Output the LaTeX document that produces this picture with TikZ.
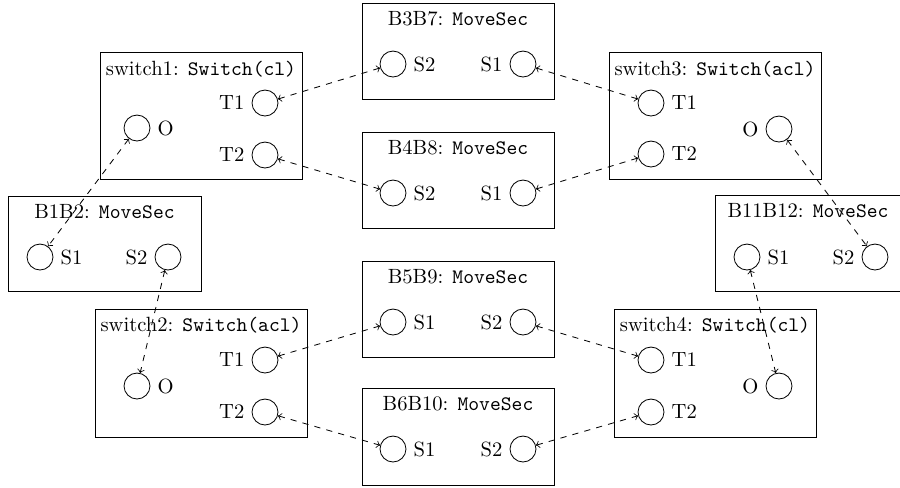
\documentclass[tikz,border=0pt]{standalone}
\usetikzlibrary{fit}
\begin{document}
\begin{tikzpicture}[x=0.4854pt, y=-0.4854pt,
  compbox/.style={draw, rectangle, inner sep=0pt, line width=0.4pt},
  title/.style={anchor=base, inner sep=0pt},
  port/.style={draw, circle, minimum size=12.6pt, inner sep=0pt, line width=0.4pt},
  conn/.style={<->, dashed, line width=0.4pt}]
\useasboundingbox (0,0) rectangle (900,487);
\clip (0,0) rectangle (900,487);

% switch1
\node[compbox, fit={(100,52) (302,179)}] (sw1) {};
\node[title] (sw1t) at (201,75) {switch1: \texttt{Switch(cl)}};
\node[port, label={left:T1}] (sw1T1) at (265,103) {};
\node[port, label={left:T2}] (sw1T2) at (265,155) {};
\node[port, label={right:O}] (sw1O) at (137,128) {};

% switch2
\node[compbox, fit={(95,309) (307,437)}] (sw2) {};
\node[title] (sw2t) at (201,331) {switch2: \texttt{Switch(acl)}};
\node[port, label={left:T1}] (sw2T1) at (265,360) {};
\node[port, label={left:T2}] (sw2T2) at (265,412) {};
\node[port, label={right:O}] (sw2O) at (137,386) {};

% switch3
\node[compbox, fit={(609,52) (821,179)}] (sw3) {};
\node[title] (sw3t) at (715,75) {switch3: \texttt{Switch(acl)}};
\node[port, label={right:T1}] (sw3T1) at (651,103) {};
\node[port, label={right:T2}] (sw3T2) at (651,154) {};
\node[port, label={left:O}] (sw3O) at (779,129) {};

% switch4
\node[compbox, fit={(614,309) (816,437)}] (sw4) {};
\node[title] (sw4t) at (715,331) {switch4: \texttt{Switch(cl)}};
\node[port, label={right:T1}] (sw4T1) at (651,360) {};
\node[port, label={right:T2}] (sw4T2) at (651,412) {};
\node[port, label={left:O}] (sw4O) at (779,386) {};

% B1B2
\node[compbox, fit={(8,196) (201,291)}] (b12) {};
\node[title] (b12t) at (104.5,218) {B1B2: \texttt{MoveSec}};
\node[port, label={right:S1}] (b12S1) at (40,257) {};
\node[port, label={left:S2}] (b12S2) at (168,257) {};

% B11B12
\node[compbox, fit={(715,195) (908,291)}] (b1112) {};
\node[title] (b1112t) at (808,217) {B11B12: \texttt{MoveSec}};
\node[port, label={right:S1}] (b1112S1) at (747,257) {};
\node[port, label={left:S2}] (b1112S2) at (875,257) {};

% B3B7
\node[compbox, fit={(362,3) (554,99)}] (b37) {};
\node[title] (b37t) at (458,25) {B3B7: \texttt{MoveSec}};
\node[port, label={right:S2}] (b37S2) at (393,64) {};
\node[port, label={left:S1}] (b37S1) at (523,64) {};

% B4B8
\node[compbox, fit={(362,132) (554,228)}] (b48) {};
\node[title] (b48t) at (458,154) {B4B8: \texttt{MoveSec}};
\node[port, label={right:S2}] (b48S2) at (393,193) {};
\node[port, label={left:S1}] (b48S1) at (523,193) {};

% B5B9
\node[compbox, fit={(362,261) (554,357)}] (b59) {};
\node[title] (b59t) at (458,283) {B5B9: \texttt{MoveSec}};
\node[port, label={right:S1}] (b59S1) at (393,322) {};
\node[port, label={left:S2}] (b59S2) at (523,322) {};

% B6B10
\node[compbox, fit={(362,388) (554,485)}] (b610) {};
\node[title] (b610t) at (458,410) {B6B10: \texttt{MoveSec}};
\node[port, label={right:S1}] (b610S1) at (393,449) {};
\node[port, label={left:S2}] (b610S2) at (523,449) {};

% track connections
\draw[conn] (sw1T1) -- (b37S2);
\draw[conn] (sw1T2) -- (b48S2);
\draw[conn] (sw1O) -- (b12S1);
\draw[conn] (b12S2) -- (sw2O);
\draw[conn] (sw2T1) -- (b59S1);
\draw[conn] (sw2T2) -- (b610S1);
\draw[conn] (b37S1) -- (sw3T1);
\draw[conn] (b48S1) -- (sw3T2);
\draw[conn] (sw3O) -- (b1112S2);
\draw[conn] (b1112S1) -- (sw4O);
\draw[conn] (b59S2) -- (sw4T1);
\draw[conn] (b610S2) -- (sw4T2);
\end{tikzpicture}
\end{document}
